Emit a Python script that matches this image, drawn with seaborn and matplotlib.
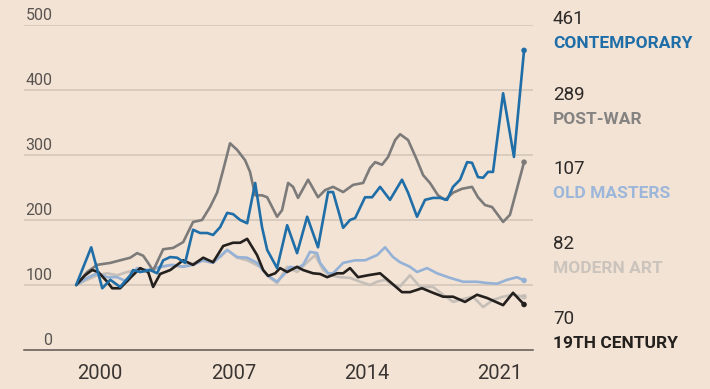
import numpy as np
import pandas as pd
import matplotlib
matplotlib.use("Agg")
import matplotlib.pyplot as plt
import matplotlib.transforms as mtransforms
import seaborn as sns

# ---------------- data (index, start = 100) ----------------
contemporary_years = [1998.74, 1999.53, 2000.11, 2000.53, 2001.05, 2001.58, 2001.73, 2002.10, 2002.63, 2002.99,
                      2003.31, 2003.68, 2004.04, 2004.46, 2004.88, 2005.25, 2005.62, 2005.93, 2006.30, 2006.67,
                      2006.98, 2007.35, 2007.72, 2008.14, 2008.50, 2008.77, 2009.29, 2009.82, 2010.34, 2010.87,
                      2011.44, 2011.97, 2012.23, 2012.76, 2013.12, 2013.39, 2013.91, 2014.28, 2014.70, 2015.22,
                      2015.85, 2016.17, 2016.64, 2017.06, 2017.48, 2017.85, 2018.22, 2018.53, 2018.90, 2019.27,
                      2019.53, 2019.84, 2020.11, 2020.37, 2020.63, 2021.16, 2021.73, 2022.26]
contemporary_values = [100, 158, 95, 108, 97, 115, 123, 120, 123, 118,
                       138, 143, 142, 134, 185, 180, 180, 177, 189, 211,
                       209, 200, 195, 257, 189, 154, 126, 192, 149, 205,
                       158, 243, 243, 188, 200, 203, 235, 235, 251, 231,
                       262, 242, 205, 231, 234, 234, 231, 251, 262, 289,
                       288, 266, 265, 274, 274, 395, 297, 461]

postwar_years = [1998.74, 1999.32, 1999.84, 2000.53, 2001.05, 2001.58, 2001.94, 2002.26, 2002.52, 2002.78,
                 2003.31, 2003.83, 2004.36, 2004.88, 2005.35, 2005.77, 2006.14, 2006.46, 2006.82, 2007.19,
                 2007.61, 2007.87, 2008.14, 2008.50, 2008.77, 2009.29, 2009.55, 2009.87, 2010.13, 2010.39,
                 2010.92, 2011.44, 2011.81, 2012.23, 2012.76, 2013.28, 2013.81, 2014.17, 2014.44, 2014.80,
                 2015.12, 2015.49, 2015.75, 2016.17, 2016.64, 2016.96, 2017.32, 2017.74, 2018.11, 2018.53,
                 2019.00, 2019.53, 2019.84, 2020.21, 2020.58, 2021.16, 2021.52, 2022.26]
postwar_values = [100, 120, 131, 134, 138, 142, 149, 145, 134, 122,
                  155, 157, 166, 197, 200, 220, 242, 277, 318, 308,
                  292, 274, 238, 238, 235, 205, 215, 257, 251, 234,
                  262, 235, 246, 251, 243, 254, 257, 280, 289, 285,
                  297, 323, 332, 323, 292, 269, 257, 238, 231, 242,
                  248, 251, 235, 223, 220, 197, 208, 289]

oldmasters_years = [1998.74, 1999.32, 1999.84, 2000.37, 2000.89, 2001.42, 2001.94, 2002.47, 2003.15, 2003.83,
                    2004.36, 2004.88, 2005.41, 2005.93, 2006.67, 2007.19, 2007.72, 2008.24, 2008.77, 2009.29,
                    2009.71, 2009.97, 2010.34, 2010.66, 2011.02, 2011.39, 2011.55, 2011.97, 2012.23, 2012.76,
                    2013.39, 2013.91, 2014.54, 2014.96, 2015.38, 2015.75, 2016.27, 2016.64, 2017.17, 2017.69,
                    2018.37, 2019.06, 2019.79, 2020.32, 2020.84, 2021.37, 2021.89, 2022.26]
oldmasters_values = [100, 111, 118, 112, 112, 105, 126, 123, 128, 131,
                     128, 131, 138, 134, 154, 143, 142, 134, 115, 105,
                     118, 128, 126, 131, 151, 149, 134, 118, 118, 134,
                     138, 138, 146, 158, 143, 135, 128, 120, 126, 118,
                     111, 105, 105, 103, 102, 108, 112, 107]

modern_years = [1998.74, 1999.32, 1999.84, 2000.37, 2000.89, 2001.42, 2001.94, 2002.47, 2002.99, 2003.68,
                2004.20, 2004.72, 2005.25, 2005.77, 2006.30, 2006.67, 2007.19, 2007.72, 2008.40, 2008.92,
                2009.29, 2009.82, 2010.34, 2010.87, 2011.29, 2011.71, 2012.07, 2012.60, 2013.12, 2013.65,
                2014.17, 2014.54, 2014.96, 2015.38, 2015.75, 2016.27, 2016.80, 2017.48, 2018.01, 2018.53,
                2019.00, 2019.58, 2020.11, 2020.63, 2021.16, 2021.68, 2022.26]
modern_values = [100, 108, 115, 118, 115, 120, 123, 120, 126, 131,
                 128, 131, 138, 135, 143, 154, 142, 138, 128, 111,
                 103, 128, 120, 135, 146, 123, 115, 112, 111, 105,
                 100, 105, 108, 100, 98, 115, 97, 97, 85, 74,
                 78, 82, 66, 77, 82, 85, 82]

century19_years = [1998.74, 1999.21, 1999.58, 1999.90, 2000.37, 2000.63, 2001.05, 2001.58, 2002.10, 2002.52,
                   2002.78, 2003.15, 2003.68, 2004.36, 2004.88, 2005.41, 2005.93, 2006.46, 2006.98, 2007.35,
                   2007.72, 2008.24, 2008.56, 2008.82, 2009.19, 2009.45, 2009.82, 2010.34, 2010.66, 2011.18,
                   2011.55, 2011.92, 2012.44, 2012.76, 2013.12, 2013.54, 2014.07, 2014.70, 2015.22, 2015.85,
                   2016.27, 2016.90, 2017.48, 2018.01, 2018.53, 2019.16, 2019.79, 2020.32, 2021.16, 2021.68,
                   2022.26]
century19_values = [100, 115, 123, 120, 105, 95, 95, 111, 126, 120,
                    97, 117, 123, 138, 131, 142, 135, 160, 165, 165,
                    171, 146, 123, 114, 118, 126, 120, 128, 123, 118,
                    117, 112, 118, 118, 126, 112, 115, 118, 105, 89,
                    89, 95, 88, 82, 82, 74, 85, 80, 69, 88,
                    70]

categories = ["MODERN ART", "OLD MASTERS", "POST-WAR", "19TH CENTURY", "CONTEMPORARY"]
label_order = ["CONTEMPORARY", "POST-WAR", "OLD MASTERS", "MODERN ART", "19TH CENTURY"]
x_tick_labels = [2000, 2007, 2014, 2021]
y_ticks = [0, 100, 200, 300, 400, 500]

# ---------------- styling ----------------
BG = "#f2e3d5"
GRID = "#d9cbbd"
AXIS = "#5e5650"
colors = {
    "CONTEMPORARY": "#1f6ea8",
    "POST-WAR": "#7c7b7a",
    "OLD MASTERS": "#95b2d6",
    "MODERN ART": "#c6bfb8",
    "19TH CENTURY": "#24201d",
}
label_colors = {
    "CONTEMPORARY": "#1f6ea8",
    "POST-WAR": "#858382",
    "OLD MASTERS": "#9cb7da",
    "MODERN ART": "#cbc4bd",
    "19TH CENTURY": "#24201d",
}

data = {
    "CONTEMPORARY": (contemporary_years, contemporary_values),
    "POST-WAR": (postwar_years, postwar_values),
    "OLD MASTERS": (oldmasters_years, oldmasters_values),
    "MODERN ART": (modern_years, modern_values),
    "19TH CENTURY": (century19_years, century19_values),
}

frames = []
for name, (yrs, vals) in data.items():
    frames.append(pd.DataFrame({"year": yrs, "value": vals, "series": name}))
df = pd.concat(frames, ignore_index=True)
last = df.groupby("series", sort=False).tail(1)

sns.set_style("white")
plt.rcParams["font.family"] = ["Roboto", "DejaVu Sans"]

fig = plt.figure(figsize=(7.1, 3.89), dpi=100, facecolor=BG)
ax = fig.add_axes([24 / 710, 39 / 389, 509 / 710, 325 / 389])
ax.set_facecolor(BG)

sns.lineplot(data=df, x="year", y="value", hue="series", hue_order=categories,
             palette=colors, estimator=None, sort=False, linewidth=1.9,
             legend=False, ax=ax)
sns.scatterplot(data=last, x="year", y="value", hue="series", hue_order=categories,
                palette=colors, s=16, linewidth=0, legend=False, ax=ax, zorder=5)

ax.set_xlim(1996.0, 2022.73)
ax.set_ylim(0, 500)
for s in ["top", "right", "left"]:
    ax.spines[s].set_visible(False)
ax.spines["bottom"].set_color(AXIS)
ax.spines["bottom"].set_linewidth(1.1)

ax.set_yticks(y_ticks[1:])
ax.yaxis.grid(True, color=GRID, linewidth=1.4)
ax.xaxis.grid(False)
ax.set_axisbelow(True)
ax.tick_params(axis="y", length=0, labelleft=False)

trans = mtransforms.blended_transform_factory(ax.transAxes, ax.transData)
for t in y_ticks:
    ax.text(0.056, t + 8, str(t), transform=trans, ha="right", va="baseline",
            fontsize=11.5, color="#5a5450")

ax.set_xticks(x_tick_labels)
ax.set_xticklabels([str(x) for x in x_tick_labels], fontsize=14.5, color="#3a3532")
ax.tick_params(axis="x", which="major", length=0, pad=10)
ax.set_xticks([contemporary_years[0], contemporary_years[-1]], minor=True)
ax.tick_params(axis="x", which="minor", direction="in", length=7, width=1, color=AXIS)
ax.set_xlabel("")
ax.set_ylabel("")

# right-hand labels
y_centers = [19.5, 95, 169, 244, 319]
for name, yc in zip(label_order, y_centers):
    v = data[name][1][-1]
    fig.text(553 / 710, 1 - yc / 389, f"{int(round(v))}", ha="left", va="center",
             fontsize=13.5, color="#2e2a27")
    fig.text(553 / 710, 1 - (yc + 24.5) / 389, name, ha="left", va="center",
             fontsize=12.5, fontweight="bold", color=label_colors[name])

fig.savefig("out.png", dpi=100, facecolor=BG)
